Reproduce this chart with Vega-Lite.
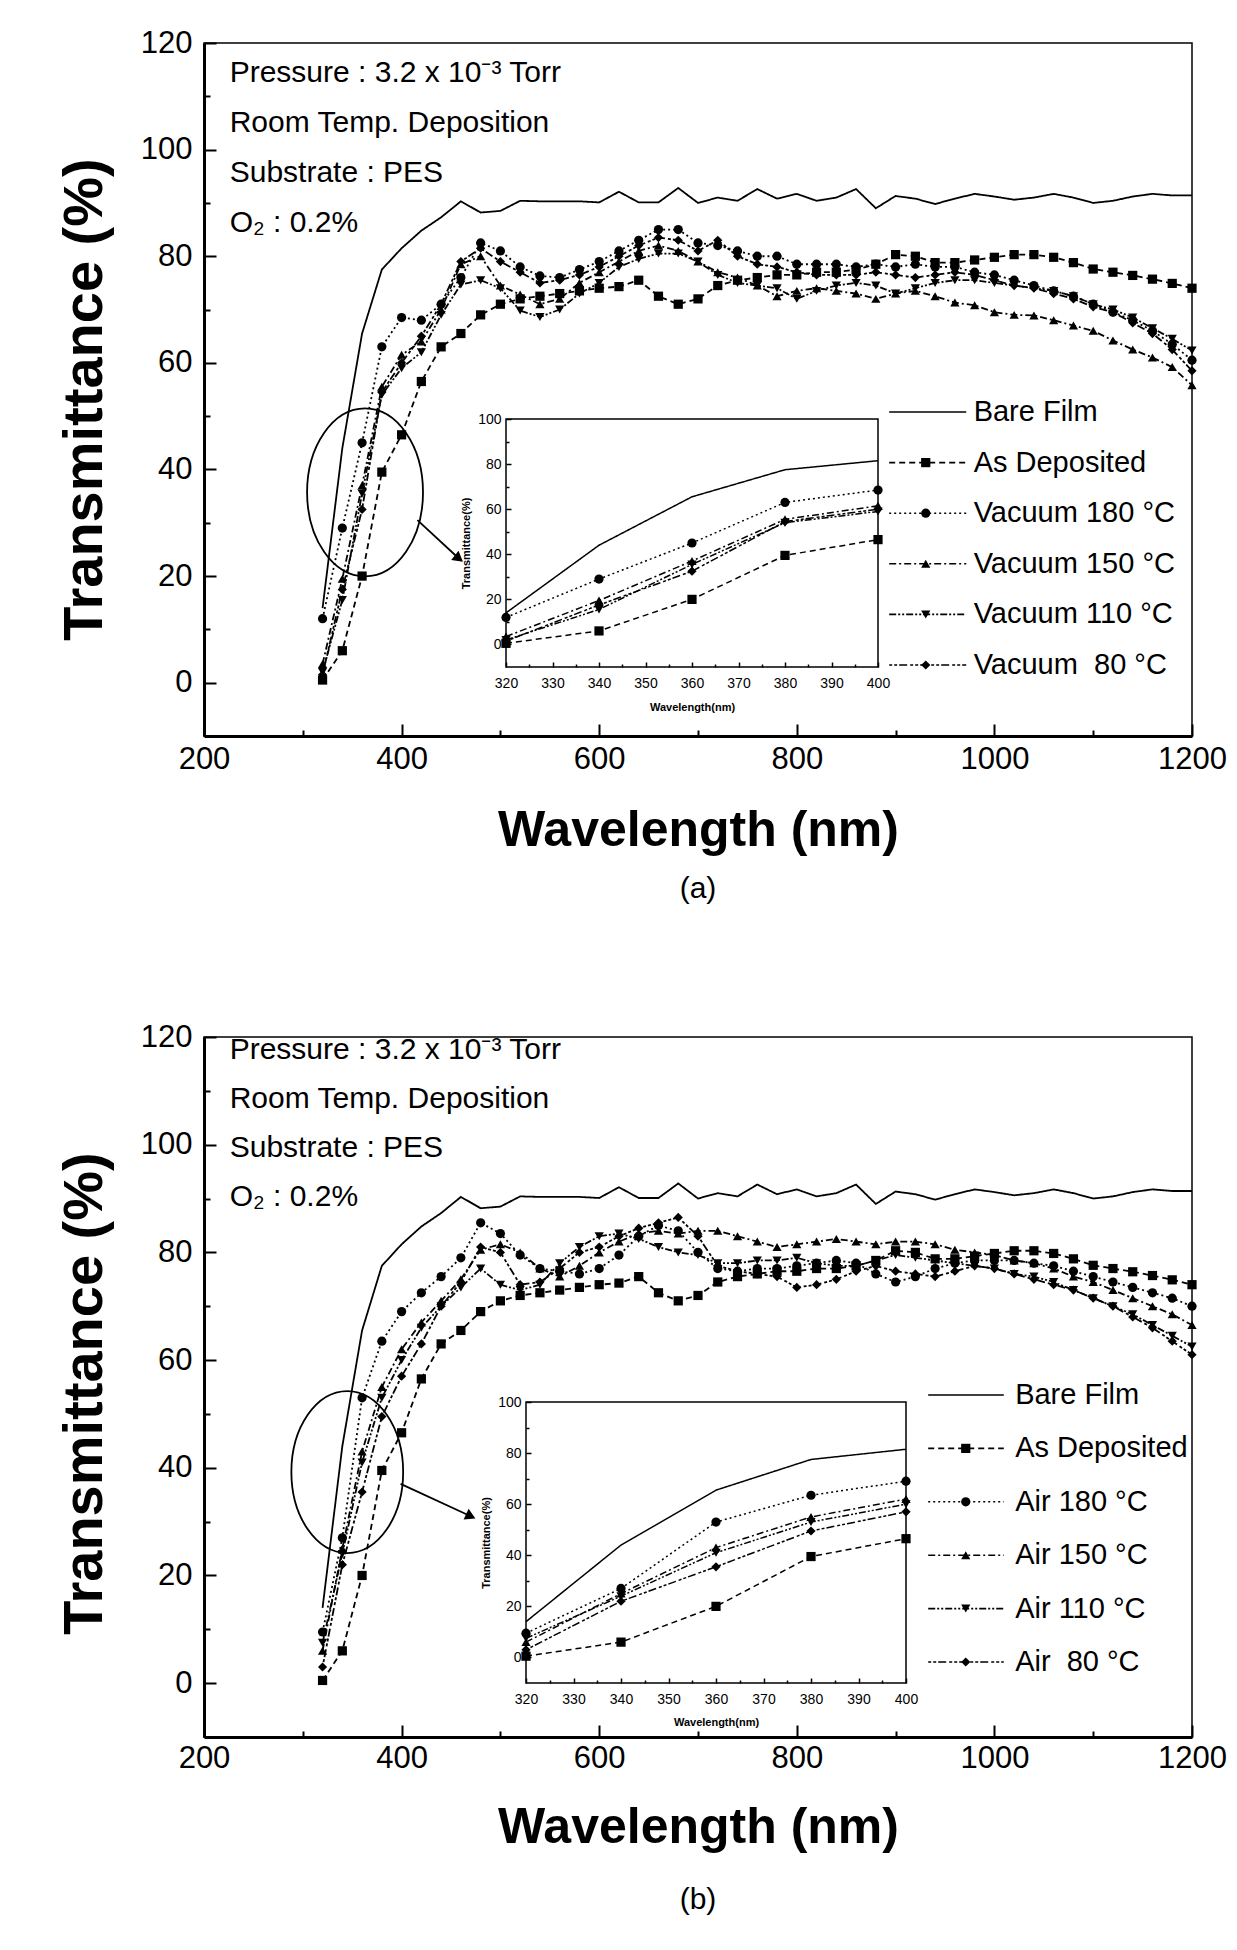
{
"$schema":"https://vega.github.io/schema/vega-lite/v6.json",
"background":"white",
"padding":{"left":55,"top":26,"right":10,"bottom":10},
"spacing":115,
"config":{"view":{"stroke":"black","strokeWidth":1.5},"font":"Liberation Sans","axis":{"grid":false,"domainColor":"black","tickColor":"black","labelColor":"black","titleColor":"black","labelFont":"Liberation Sans","titleFont":"Liberation Sans"},"title":{"color":"black"}},
"datasets":{
"a":[
{"w":320,"t":14,"s":"bare"},{"w":340,"t":44,"s":"bare"},{"w":360,"t":65.5,"s":"bare"},{"w":380,"t":77.5,"s":"bare"},{"w":400,"t":81.5,"s":"bare"},{"w":420,"t":84.8,"s":"bare"},{"w":440,"t":87.3,"s":"bare"},{"w":460,"t":90.3,"s":"bare"},{"w":480,"t":88.2,"s":"bare"},{"w":500,"t":88.5,"s":"bare"},{"w":520,"t":90.4,"s":"bare"},{"w":540,"t":90.3,"s":"bare"},{"w":560,"t":90.3,"s":"bare"},{"w":580,"t":90.3,"s":"bare"},{"w":600,"t":90.1,"s":"bare"},{"w":620,"t":92.1,"s":"bare"},{"w":640,"t":90.1,"s":"bare"},{"w":660,"t":90.1,"s":"bare"},{"w":680,"t":92.8,"s":"bare"},{"w":700,"t":90,"s":"bare"},{"w":720,"t":91,"s":"bare"},{"w":740,"t":90.4,"s":"bare"},{"w":760,"t":92.6,"s":"bare"},{"w":780,"t":90.8,"s":"bare"},{"w":800,"t":91.7,"s":"bare"},{"w":820,"t":90.4,"s":"bare"},{"w":840,"t":91,"s":"bare"},{"w":860,"t":92.6,"s":"bare"},{"w":880,"t":89,"s":"bare"},{"w":900,"t":91.3,"s":"bare"},{"w":920,"t":90.8,"s":"bare"},{"w":940,"t":89.8,"s":"bare"},{"w":960,"t":90.8,"s":"bare"},{"w":980,"t":91.7,"s":"bare"},{"w":1000,"t":91.2,"s":"bare"},{"w":1020,"t":90.6,"s":"bare"},{"w":1040,"t":91,"s":"bare"},{"w":1060,"t":91.7,"s":"bare"},{"w":1080,"t":91,"s":"bare"},{"w":1100,"t":90,"s":"bare"},{"w":1120,"t":90.4,"s":"bare"},{"w":1140,"t":91.2,"s":"bare"},{"w":1160,"t":91.7,"s":"bare"},{"w":1180,"t":91.4,"s":"bare"},{"w":1200,"t":91.4,"s":"bare"},
{"w":320,"t":0.5,"s":"asdep"},{"w":340,"t":6,"s":"asdep"},{"w":360,"t":20,"s":"asdep"},{"w":380,"t":39.5,"s":"asdep"},{"w":400,"t":46.5,"s":"asdep"},{"w":420,"t":56.5,"s":"asdep"},{"w":440,"t":63,"s":"asdep"},{"w":460,"t":65.5,"s":"asdep"},{"w":480,"t":69,"s":"asdep"},{"w":500,"t":71,"s":"asdep"},{"w":520,"t":72,"s":"asdep"},{"w":540,"t":72.5,"s":"asdep"},{"w":560,"t":73,"s":"asdep"},{"w":580,"t":73.5,"s":"asdep"},{"w":600,"t":74,"s":"asdep"},{"w":620,"t":74.3,"s":"asdep"},{"w":640,"t":75.5,"s":"asdep"},{"w":660,"t":72.5,"s":"asdep"},{"w":680,"t":71,"s":"asdep"},{"w":700,"t":72,"s":"asdep"},{"w":720,"t":74.5,"s":"asdep"},{"w":740,"t":75.5,"s":"asdep"},{"w":760,"t":76,"s":"asdep"},{"w":780,"t":76.5,"s":"asdep"},{"w":800,"t":76.5,"s":"asdep"},{"w":820,"t":77,"s":"asdep"},{"w":840,"t":77,"s":"asdep"},{"w":860,"t":77.5,"s":"asdep"},{"w":880,"t":78.5,"s":"asdep"},{"w":900,"t":80.3,"s":"asdep"},{"w":920,"t":80,"s":"asdep"},{"w":940,"t":78.8,"s":"asdep"},{"w":960,"t":78.8,"s":"asdep"},{"w":980,"t":79.3,"s":"asdep"},{"w":1000,"t":79.8,"s":"asdep"},{"w":1020,"t":80.3,"s":"asdep"},{"w":1040,"t":80.3,"s":"asdep"},{"w":1060,"t":79.8,"s":"asdep"},{"w":1080,"t":78.8,"s":"asdep"},{"w":1100,"t":77.6,"s":"asdep"},{"w":1120,"t":77,"s":"asdep"},{"w":1140,"t":76.4,"s":"asdep"},{"w":1160,"t":75.7,"s":"asdep"},{"w":1180,"t":74.9,"s":"asdep"},{"w":1200,"t":74,"s":"asdep"},
{"w":320,"t":12,"s":"t180"},{"w":340,"t":29,"s":"t180"},{"w":360,"t":45,"s":"t180"},{"w":380,"t":63,"s":"t180"},{"w":400,"t":68.5,"s":"t180"},{"w":420,"t":68,"s":"t180"},{"w":440,"t":71,"s":"t180"},{"w":460,"t":76,"s":"t180"},{"w":480,"t":82.5,"s":"t180"},{"w":500,"t":81,"s":"t180"},{"w":520,"t":78,"s":"t180"},{"w":540,"t":76.3,"s":"t180"},{"w":560,"t":76,"s":"t180"},{"w":580,"t":77.5,"s":"t180"},{"w":600,"t":79,"s":"t180"},{"w":620,"t":81,"s":"t180"},{"w":640,"t":83,"s":"t180"},{"w":660,"t":85,"s":"t180"},{"w":680,"t":85,"s":"t180"},{"w":700,"t":82.5,"s":"t180"},{"w":720,"t":82,"s":"t180"},{"w":740,"t":81,"s":"t180"},{"w":760,"t":80,"s":"t180"},{"w":780,"t":80,"s":"t180"},{"w":800,"t":78.5,"s":"t180"},{"w":820,"t":78.5,"s":"t180"},{"w":840,"t":78.5,"s":"t180"},{"w":860,"t":78,"s":"t180"},{"w":880,"t":78.5,"s":"t180"},{"w":900,"t":78,"s":"t180"},{"w":920,"t":78.5,"s":"t180"},{"w":940,"t":78,"s":"t180"},{"w":960,"t":78,"s":"t180"},{"w":980,"t":77,"s":"t180"},{"w":1000,"t":76.5,"s":"t180"},{"w":1020,"t":75.5,"s":"t180"},{"w":1040,"t":74.5,"s":"t180"},{"w":1060,"t":73.5,"s":"t180"},{"w":1080,"t":72.5,"s":"t180"},{"w":1100,"t":71,"s":"t180"},{"w":1120,"t":69.5,"s":"t180"},{"w":1140,"t":68,"s":"t180"},{"w":1160,"t":66,"s":"t180"},{"w":1180,"t":63.5,"s":"t180"},{"w":1200,"t":60.5,"s":"t180"},
{"w":320,"t":3.5,"s":"t150"},{"w":340,"t":19.5,"s":"t150"},{"w":360,"t":37,"s":"t150"},{"w":380,"t":55.5,"s":"t150"},{"w":400,"t":61.5,"s":"t150"},{"w":420,"t":64,"s":"t150"},{"w":440,"t":70,"s":"t150"},{"w":460,"t":78.5,"s":"t150"},{"w":480,"t":80,"s":"t150"},{"w":500,"t":74.5,"s":"t150"},{"w":520,"t":72.8,"s":"t150"},{"w":540,"t":71,"s":"t150"},{"w":560,"t":72,"s":"t150"},{"w":580,"t":75,"s":"t150"},{"w":600,"t":77,"s":"t150"},{"w":620,"t":79,"s":"t150"},{"w":640,"t":81,"s":"t150"},{"w":660,"t":82,"s":"t150"},{"w":680,"t":81,"s":"t150"},{"w":700,"t":79,"s":"t150"},{"w":720,"t":77,"s":"t150"},{"w":740,"t":76,"s":"t150"},{"w":760,"t":74.5,"s":"t150"},{"w":780,"t":72.5,"s":"t150"},{"w":800,"t":73.5,"s":"t150"},{"w":820,"t":74,"s":"t150"},{"w":840,"t":73.5,"s":"t150"},{"w":860,"t":73,"s":"t150"},{"w":880,"t":72,"s":"t150"},{"w":900,"t":73,"s":"t150"},{"w":920,"t":73.5,"s":"t150"},{"w":940,"t":72.5,"s":"t150"},{"w":960,"t":71.3,"s":"t150"},{"w":980,"t":70.8,"s":"t150"},{"w":1000,"t":69.5,"s":"t150"},{"w":1020,"t":69,"s":"t150"},{"w":1040,"t":68.9,"s":"t150"},{"w":1060,"t":68,"s":"t150"},{"w":1080,"t":67,"s":"t150"},{"w":1100,"t":66,"s":"t150"},{"w":1120,"t":64.2,"s":"t150"},{"w":1140,"t":62.5,"s":"t150"},{"w":1160,"t":61,"s":"t150"},{"w":1180,"t":59.2,"s":"t150"},{"w":1200,"t":55.8,"s":"t150"},
{"w":320,"t":2,"s":"t110"},{"w":340,"t":15.5,"s":"t110"},{"w":360,"t":35.5,"s":"t110"},{"w":380,"t":54,"s":"t110"},{"w":400,"t":59,"s":"t110"},{"w":420,"t":62,"s":"t110"},{"w":440,"t":69,"s":"t110"},{"w":460,"t":74.7,"s":"t110"},{"w":480,"t":75.5,"s":"t110"},{"w":500,"t":74,"s":"t110"},{"w":520,"t":69.8,"s":"t110"},{"w":540,"t":68.6,"s":"t110"},{"w":560,"t":70,"s":"t110"},{"w":580,"t":73,"s":"t110"},{"w":600,"t":75,"s":"t110"},{"w":620,"t":78,"s":"t110"},{"w":640,"t":79.5,"s":"t110"},{"w":660,"t":80.5,"s":"t110"},{"w":680,"t":80.5,"s":"t110"},{"w":700,"t":79,"s":"t110"},{"w":720,"t":76.5,"s":"t110"},{"w":740,"t":75,"s":"t110"},{"w":760,"t":74.5,"s":"t110"},{"w":780,"t":74,"s":"t110"},{"w":800,"t":72,"s":"t110"},{"w":820,"t":73.5,"s":"t110"},{"w":840,"t":74.5,"s":"t110"},{"w":860,"t":75,"s":"t110"},{"w":880,"t":74.5,"s":"t110"},{"w":900,"t":73,"s":"t110"},{"w":920,"t":74,"s":"t110"},{"w":940,"t":75,"s":"t110"},{"w":960,"t":75.5,"s":"t110"},{"w":980,"t":75.5,"s":"t110"},{"w":1000,"t":75,"s":"t110"},{"w":1020,"t":74.5,"s":"t110"},{"w":1040,"t":74,"s":"t110"},{"w":1060,"t":73.5,"s":"t110"},{"w":1080,"t":72.5,"s":"t110"},{"w":1100,"t":71,"s":"t110"},{"w":1120,"t":70,"s":"t110"},{"w":1140,"t":68.5,"s":"t110"},{"w":1160,"t":66.5,"s":"t110"},{"w":1180,"t":64.5,"s":"t110"},{"w":1200,"t":62.3,"s":"t110"},
{"w":320,"t":1.5,"s":"t80"},{"w":340,"t":17.5,"s":"t80"},{"w":360,"t":32.5,"s":"t80"},{"w":380,"t":54.5,"s":"t80"},{"w":400,"t":60,"s":"t80"},{"w":420,"t":65,"s":"t80"},{"w":440,"t":71,"s":"t80"},{"w":460,"t":79,"s":"t80"},{"w":480,"t":81.5,"s":"t80"},{"w":500,"t":79,"s":"t80"},{"w":520,"t":77,"s":"t80"},{"w":540,"t":75,"s":"t80"},{"w":560,"t":75.5,"s":"t80"},{"w":580,"t":76.5,"s":"t80"},{"w":600,"t":78,"s":"t80"},{"w":620,"t":80,"s":"t80"},{"w":640,"t":82,"s":"t80"},{"w":660,"t":83.5,"s":"t80"},{"w":680,"t":83,"s":"t80"},{"w":700,"t":81,"s":"t80"},{"w":720,"t":83,"s":"t80"},{"w":740,"t":80,"s":"t80"},{"w":760,"t":78.5,"s":"t80"},{"w":780,"t":78,"s":"t80"},{"w":800,"t":77,"s":"t80"},{"w":820,"t":76.5,"s":"t80"},{"w":840,"t":76.5,"s":"t80"},{"w":860,"t":76.5,"s":"t80"},{"w":880,"t":77,"s":"t80"},{"w":900,"t":76.5,"s":"t80"},{"w":920,"t":76,"s":"t80"},{"w":940,"t":76.5,"s":"t80"},{"w":960,"t":77,"s":"t80"},{"w":980,"t":76.5,"s":"t80"},{"w":1000,"t":75.5,"s":"t80"},{"w":1020,"t":74.5,"s":"t80"},{"w":1040,"t":74,"s":"t80"},{"w":1060,"t":73,"s":"t80"},{"w":1080,"t":72,"s":"t80"},{"w":1100,"t":70.5,"s":"t80"},{"w":1120,"t":69.5,"s":"t80"},{"w":1140,"t":67.5,"s":"t80"},{"w":1160,"t":65.5,"s":"t80"},{"w":1180,"t":62.5,"s":"t80"},{"w":1200,"t":58.5,"s":"t80"}
],
"b":[
{"w":320,"t":14,"s":"bare"},{"w":340,"t":44,"s":"bare"},{"w":360,"t":65.5,"s":"bare"},{"w":380,"t":77.5,"s":"bare"},{"w":400,"t":81.5,"s":"bare"},{"w":420,"t":84.8,"s":"bare"},{"w":440,"t":87.3,"s":"bare"},{"w":460,"t":90.3,"s":"bare"},{"w":480,"t":88.2,"s":"bare"},{"w":500,"t":88.5,"s":"bare"},{"w":520,"t":90.4,"s":"bare"},{"w":540,"t":90.3,"s":"bare"},{"w":560,"t":90.3,"s":"bare"},{"w":580,"t":90.3,"s":"bare"},{"w":600,"t":90.1,"s":"bare"},{"w":620,"t":92.1,"s":"bare"},{"w":640,"t":90.1,"s":"bare"},{"w":660,"t":90.1,"s":"bare"},{"w":680,"t":92.8,"s":"bare"},{"w":700,"t":90,"s":"bare"},{"w":720,"t":91,"s":"bare"},{"w":740,"t":90.4,"s":"bare"},{"w":760,"t":92.6,"s":"bare"},{"w":780,"t":90.8,"s":"bare"},{"w":800,"t":91.7,"s":"bare"},{"w":820,"t":90.4,"s":"bare"},{"w":840,"t":91,"s":"bare"},{"w":860,"t":92.6,"s":"bare"},{"w":880,"t":89,"s":"bare"},{"w":900,"t":91.3,"s":"bare"},{"w":920,"t":90.8,"s":"bare"},{"w":940,"t":89.8,"s":"bare"},{"w":960,"t":90.8,"s":"bare"},{"w":980,"t":91.7,"s":"bare"},{"w":1000,"t":91.2,"s":"bare"},{"w":1020,"t":90.6,"s":"bare"},{"w":1040,"t":91,"s":"bare"},{"w":1060,"t":91.7,"s":"bare"},{"w":1080,"t":91,"s":"bare"},{"w":1100,"t":90,"s":"bare"},{"w":1120,"t":90.4,"s":"bare"},{"w":1140,"t":91.2,"s":"bare"},{"w":1160,"t":91.7,"s":"bare"},{"w":1180,"t":91.4,"s":"bare"},{"w":1200,"t":91.4,"s":"bare"},
{"w":320,"t":0.5,"s":"asdep"},{"w":340,"t":6,"s":"asdep"},{"w":360,"t":20,"s":"asdep"},{"w":380,"t":39.5,"s":"asdep"},{"w":400,"t":46.5,"s":"asdep"},{"w":420,"t":56.5,"s":"asdep"},{"w":440,"t":63,"s":"asdep"},{"w":460,"t":65.5,"s":"asdep"},{"w":480,"t":69,"s":"asdep"},{"w":500,"t":71,"s":"asdep"},{"w":520,"t":72,"s":"asdep"},{"w":540,"t":72.5,"s":"asdep"},{"w":560,"t":73,"s":"asdep"},{"w":580,"t":73.5,"s":"asdep"},{"w":600,"t":74,"s":"asdep"},{"w":620,"t":74.3,"s":"asdep"},{"w":640,"t":75.5,"s":"asdep"},{"w":660,"t":72.5,"s":"asdep"},{"w":680,"t":71,"s":"asdep"},{"w":700,"t":72,"s":"asdep"},{"w":720,"t":74.5,"s":"asdep"},{"w":740,"t":75.5,"s":"asdep"},{"w":760,"t":76,"s":"asdep"},{"w":780,"t":76.5,"s":"asdep"},{"w":800,"t":76.5,"s":"asdep"},{"w":820,"t":77,"s":"asdep"},{"w":840,"t":77,"s":"asdep"},{"w":860,"t":77.5,"s":"asdep"},{"w":880,"t":78.5,"s":"asdep"},{"w":900,"t":80.3,"s":"asdep"},{"w":920,"t":80,"s":"asdep"},{"w":940,"t":78.8,"s":"asdep"},{"w":960,"t":78.8,"s":"asdep"},{"w":980,"t":79.3,"s":"asdep"},{"w":1000,"t":79.8,"s":"asdep"},{"w":1020,"t":80.3,"s":"asdep"},{"w":1040,"t":80.3,"s":"asdep"},{"w":1060,"t":79.8,"s":"asdep"},{"w":1080,"t":78.8,"s":"asdep"},{"w":1100,"t":77.6,"s":"asdep"},{"w":1120,"t":77,"s":"asdep"},{"w":1140,"t":76.4,"s":"asdep"},{"w":1160,"t":75.7,"s":"asdep"},{"w":1180,"t":74.9,"s":"asdep"},{"w":1200,"t":74,"s":"asdep"},
{"w":320,"t":9.5,"s":"t180"},{"w":340,"t":27,"s":"t180"},{"w":360,"t":53,"s":"t180"},{"w":380,"t":63.5,"s":"t180"},{"w":400,"t":69,"s":"t180"},{"w":420,"t":72.5,"s":"t180"},{"w":440,"t":75.5,"s":"t180"},{"w":460,"t":79,"s":"t180"},{"w":480,"t":85.5,"s":"t180"},{"w":500,"t":83.5,"s":"t180"},{"w":520,"t":79.5,"s":"t180"},{"w":540,"t":77,"s":"t180"},{"w":560,"t":76.5,"s":"t180"},{"w":580,"t":76,"s":"t180"},{"w":600,"t":77,"s":"t180"},{"w":620,"t":79.5,"s":"t180"},{"w":640,"t":83,"s":"t180"},{"w":660,"t":85,"s":"t180"},{"w":680,"t":84,"s":"t180"},{"w":700,"t":80,"s":"t180"},{"w":720,"t":77,"s":"t180"},{"w":740,"t":76.5,"s":"t180"},{"w":760,"t":77,"s":"t180"},{"w":780,"t":77,"s":"t180"},{"w":800,"t":77.5,"s":"t180"},{"w":820,"t":78,"s":"t180"},{"w":840,"t":78.5,"s":"t180"},{"w":860,"t":78,"s":"t180"},{"w":880,"t":76,"s":"t180"},{"w":900,"t":74.5,"s":"t180"},{"w":920,"t":75.5,"s":"t180"},{"w":940,"t":77,"s":"t180"},{"w":960,"t":78,"s":"t180"},{"w":980,"t":78.5,"s":"t180"},{"w":1000,"t":78.5,"s":"t180"},{"w":1020,"t":78.5,"s":"t180"},{"w":1040,"t":78,"s":"t180"},{"w":1060,"t":77.5,"s":"t180"},{"w":1080,"t":76.5,"s":"t180"},{"w":1100,"t":75.5,"s":"t180"},{"w":1120,"t":74.5,"s":"t180"},{"w":1140,"t":73.5,"s":"t180"},{"w":1160,"t":72.5,"s":"t180"},{"w":1180,"t":71.5,"s":"t180"},{"w":1200,"t":70,"s":"t180"},
{"w":320,"t":6,"s":"t150"},{"w":340,"t":25,"s":"t150"},{"w":360,"t":43,"s":"t150"},{"w":380,"t":55,"s":"t150"},{"w":400,"t":62,"s":"t150"},{"w":420,"t":67,"s":"t150"},{"w":440,"t":71,"s":"t150"},{"w":460,"t":75,"s":"t150"},{"w":480,"t":80.5,"s":"t150"},{"w":500,"t":81.5,"s":"t150"},{"w":520,"t":80,"s":"t150"},{"w":540,"t":77,"s":"t150"},{"w":560,"t":75.5,"s":"t150"},{"w":580,"t":77.5,"s":"t150"},{"w":600,"t":80,"s":"t150"},{"w":620,"t":82,"s":"t150"},{"w":640,"t":83.5,"s":"t150"},{"w":660,"t":84,"s":"t150"},{"w":680,"t":83.5,"s":"t150"},{"w":700,"t":84,"s":"t150"},{"w":720,"t":84,"s":"t150"},{"w":740,"t":83,"s":"t150"},{"w":760,"t":82,"s":"t150"},{"w":780,"t":81,"s":"t150"},{"w":800,"t":81.5,"s":"t150"},{"w":820,"t":82,"s":"t150"},{"w":840,"t":82.5,"s":"t150"},{"w":860,"t":82,"s":"t150"},{"w":880,"t":81.5,"s":"t150"},{"w":900,"t":82,"s":"t150"},{"w":920,"t":82,"s":"t150"},{"w":940,"t":81.5,"s":"t150"},{"w":960,"t":80.5,"s":"t150"},{"w":980,"t":80,"s":"t150"},{"w":1000,"t":79.5,"s":"t150"},{"w":1020,"t":78.5,"s":"t150"},{"w":1040,"t":78,"s":"t150"},{"w":1060,"t":77,"s":"t150"},{"w":1080,"t":75.5,"s":"t150"},{"w":1100,"t":74.5,"s":"t150"},{"w":1120,"t":73,"s":"t150"},{"w":1140,"t":71.5,"s":"t150"},{"w":1160,"t":70,"s":"t150"},{"w":1180,"t":68.5,"s":"t150"},{"w":1200,"t":66.5,"s":"t150"},
{"w":320,"t":7.5,"s":"t110"},{"w":340,"t":24,"s":"t110"},{"w":360,"t":41,"s":"t110"},{"w":380,"t":53,"s":"t110"},{"w":400,"t":60,"s":"t110"},{"w":420,"t":66,"s":"t110"},{"w":440,"t":70,"s":"t110"},{"w":460,"t":73.5,"s":"t110"},{"w":480,"t":77,"s":"t110"},{"w":500,"t":74,"s":"t110"},{"w":520,"t":73,"s":"t110"},{"w":540,"t":74,"s":"t110"},{"w":560,"t":78,"s":"t110"},{"w":580,"t":81,"s":"t110"},{"w":600,"t":83,"s":"t110"},{"w":620,"t":83.5,"s":"t110"},{"w":640,"t":82.5,"s":"t110"},{"w":660,"t":81,"s":"t110"},{"w":680,"t":80,"s":"t110"},{"w":700,"t":79.5,"s":"t110"},{"w":720,"t":78,"s":"t110"},{"w":740,"t":78,"s":"t110"},{"w":760,"t":78.5,"s":"t110"},{"w":780,"t":78.5,"s":"t110"},{"w":800,"t":79,"s":"t110"},{"w":820,"t":78,"s":"t110"},{"w":840,"t":77.5,"s":"t110"},{"w":860,"t":77.5,"s":"t110"},{"w":880,"t":78.5,"s":"t110"},{"w":900,"t":79.5,"s":"t110"},{"w":920,"t":79,"s":"t110"},{"w":940,"t":78.5,"s":"t110"},{"w":960,"t":78,"s":"t110"},{"w":980,"t":77.5,"s":"t110"},{"w":1000,"t":77,"s":"t110"},{"w":1020,"t":76,"s":"t110"},{"w":1040,"t":75.5,"s":"t110"},{"w":1060,"t":74.5,"s":"t110"},{"w":1080,"t":73,"s":"t110"},{"w":1100,"t":71.5,"s":"t110"},{"w":1120,"t":70,"s":"t110"},{"w":1140,"t":68.5,"s":"t110"},{"w":1160,"t":66.5,"s":"t110"},{"w":1180,"t":64.5,"s":"t110"},{"w":1200,"t":62.5,"s":"t110"},
{"w":320,"t":3,"s":"t80"},{"w":340,"t":22,"s":"t80"},{"w":360,"t":35.5,"s":"t80"},{"w":380,"t":49.5,"s":"t80"},{"w":400,"t":57,"s":"t80"},{"w":420,"t":63,"s":"t80"},{"w":440,"t":70,"s":"t80"},{"w":460,"t":74.5,"s":"t80"},{"w":480,"t":81,"s":"t80"},{"w":500,"t":80,"s":"t80"},{"w":520,"t":74,"s":"t80"},{"w":540,"t":74.5,"s":"t80"},{"w":560,"t":77,"s":"t80"},{"w":580,"t":80,"s":"t80"},{"w":600,"t":81,"s":"t80"},{"w":620,"t":83,"s":"t80"},{"w":640,"t":84.5,"s":"t80"},{"w":660,"t":85.5,"s":"t80"},{"w":680,"t":86.5,"s":"t80"},{"w":700,"t":83,"s":"t80"},{"w":720,"t":77.5,"s":"t80"},{"w":740,"t":76.5,"s":"t80"},{"w":760,"t":76,"s":"t80"},{"w":780,"t":75.5,"s":"t80"},{"w":800,"t":73.5,"s":"t80"},{"w":820,"t":74,"s":"t80"},{"w":840,"t":75,"s":"t80"},{"w":860,"t":76.5,"s":"t80"},{"w":880,"t":77.5,"s":"t80"},{"w":900,"t":76.5,"s":"t80"},{"w":920,"t":76,"s":"t80"},{"w":940,"t":75.5,"s":"t80"},{"w":960,"t":76.5,"s":"t80"},{"w":980,"t":77.5,"s":"t80"},{"w":1000,"t":77,"s":"t80"},{"w":1020,"t":76,"s":"t80"},{"w":1040,"t":75,"s":"t80"},{"w":1060,"t":74,"s":"t80"},{"w":1080,"t":73,"s":"t80"},{"w":1100,"t":71.5,"s":"t80"},{"w":1120,"t":70,"s":"t80"},{"w":1140,"t":68,"s":"t80"},{"w":1160,"t":66,"s":"t80"},{"w":1180,"t":63.5,"s":"t80"},{"w":1200,"t":61,"s":"t80"}
],
"legA":[{"s":"bare","label":"Bare Film"},{"s":"asdep","label":"As Deposited"},{"s":"t180","label":"Vacuum 180 °C"},{"s":"t150","label":"Vacuum 150 °C"},{"s":"t110","label":"Vacuum 110 °C"},{"s":"t80","label":"Vacuum \u00a080 °C"}],
"legB":[{"s":"bare","label":"Bare Film"},{"s":"asdep","label":"As Deposited"},{"s":"t180","label":"Air 180 °C"},{"s":"t150","label":"Air 150 °C"},{"s":"t110","label":"Air 110 °C"},{"s":"t80","label":"Air \u00a080 °C"}]
},
"vconcat":[
{
"width":988,"height":693,
"title":{"text":"(a)","orient":"bottom","fontSize":30,"fontWeight":"normal","font":"Liberation Sans","offset":19},
"resolve":{"scale":{"x":"independent","y":"independent"}},
"layer":[
{"layer":[
{"data":{"name":"a"},"mark":{"type":"line","color":"black","strokeWidth":1.8},
"encoding":{
"x":{"field":"w","type":"quantitative","scale":{"domain":[200,1200],"nice":false,"zero":false},"axis":{"title":"Wavelength (nm)","values":[200,300,400,500,600,700,800,900,1000,1100,1200],"format":"d","labelExpr":"datum.value % 200 === 0 ? datum.label : ''","tickSize":{"condition":{"test":"datum.value % 200 === 0","value":-12},"value":-6},"tickWidth":2,"labelFontSize":31,"labelPadding":20,"labelFlush":false,"labelOverlap":false,"titleFontSize":50,"titleFontWeight":"bold","titlePadding":25,"domainWidth":3}},
"y":{"field":"t","type":"quantitative","scale":{"domain":[-10,120],"nice":false,"zero":false},"axis":{"title":"Transmittance (%)","titleY":356,"values":[0,10,20,30,40,50,60,70,80,90,100,110,120],"labelExpr":"datum.value % 20 === 0 ? datum.label : ''","tickSize":{"condition":{"test":"datum.value % 20 === 0","value":-12},"value":-6},"tickWidth":2,"labelFontSize":31,"labelPadding":24,"labelFlush":false,"labelOverlap":false,"titleFontSize":56,"titleFontWeight":"bold","titlePadding":27,"domainWidth":3}},
"strokeDash":{"field":"s","type":"nominal","scale":{"domain":["bare","asdep","t180","t150","t110","t80"],"range":[[1,0],[6,4],[2,3],[7,3,2,3],[7,2,2,2,2,2],[3,2,3,2,8,3]]},"legend":null}}},
{"data":{"name":"a"},"transform":[{"filter":"datum.s !== 'bare'"}],"mark":{"type":"point","filled":true,"color":"black","size":85,"opacity":1},
"encoding":{"x":{"field":"w","type":"quantitative"},"y":{"field":"t","type":"quantitative"},
"shape":{"field":"s","type":"nominal","scale":{"domain":["bare","asdep","t180","t150","t110","t80"],"range":["circle","square","circle","triangle-up","triangle-down","diamond"]},"legend":null}}},
{"data":{"values":[{}]},"mark":{"type":"text","align":"left","baseline":"middle","fontSize":30,"lineHeight":50,"font":"Liberation Sans","color":"black","text":["Pressure : 3.2 x 10⁻³ Torr","Room Temp. Deposition","Substrate : PES","O₂ : 0.2%"]},"encoding":{"x":{"datum":226},"y":{"datum":114.3}}},
{"data":{"values":[{}]},"mark":{"type":"point","shape":"M0,-1A0.69,1 0 1,1 0,1A0.69,1 0 1,1 0,-1Z","filled":false,"color":"black","strokeWidth":1.8,"size":28224,"opacity":1},"encoding":{"x":{"datum":363},"y":{"datum":35.7}}},
{"data":{"values":[{}]},"mark":{"type":"rule","color":"black","strokeWidth":1.8},"encoding":{"x":{"datum":416},"y":{"datum":30.5},"x2":{"datum":458},"y2":{"datum":23.3}}},
{"data":{"values":[{}]},"mark":{"type":"point","shape":"triangle-right","filled":true,"color":"black","size":140,"angle":38,"opacity":1},"encoding":{"x":{"datum":458},"y":{"datum":23.3}}}
]},
{"layer":[
{"data":{"values":[{}]},"mark":{"type":"rect","fillOpacity":0,"stroke":"black","strokeWidth":1.5},
"encoding":{"x":{"datum":320,"scale":{"domain":[320,400],"range":[302,674],"nice":false,"zero":false},"axis":{"orient":"bottom","offset":-69,"title":"Wavelength(nm)","values":[320,325,330,335,340,345,350,355,360,365,370,375,380,385,390,395,400],"format":"d","labelExpr":"datum.value % 10 === 0 ? datum.label : ''","tickSize":{"condition":{"test":"datum.value % 10 === 0","value":-5},"value":-3},"tickWidth":1.5,"labelFontSize":14,"labelPadding":14,"labelFlush":false,"labelOverlap":false,"titleFontSize":11,"titleFontWeight":"bold","titlePadding":9,"domain":false}},
"x2":{"datum":400},
"y":{"datum":-10,"scale":{"domain":[-10,100],"range":[624,376],"nice":false,"zero":false},"axis":{"orient":"left","offset":-302,"title":"Transmittance(%)","values":[0,10,20,30,40,50,60,70,80,90,100],"labelExpr":"datum.value % 20 === 0 ? datum.label : ''","tickSize":{"condition":{"test":"datum.value % 20 === 0","value":-5},"value":-3},"tickWidth":1.5,"labelFontSize":14,"labelPadding":10,"labelFlush":false,"labelOverlap":false,"titleFontSize":11,"titleFontWeight":"bold","titlePadding":6,"domain":false}},
"y2":{"datum":100}}},
{"data":{"name":"a"},"transform":[{"filter":"datum.w <= 400"}],"mark":{"type":"line","color":"black","strokeWidth":1.5},
"encoding":{"x":{"field":"w","type":"quantitative","scale":{"domain":[320,400],"range":[302,674],"nice":false,"zero":false}},"y":{"field":"t","type":"quantitative","scale":{"domain":[-10,100],"range":[624,376],"nice":false,"zero":false}},"strokeDash":{"field":"s","type":"nominal","legend":null}}},
{"data":{"name":"a"},"transform":[{"filter":"datum.w <= 400 && datum.s !== 'bare'"}],"mark":{"type":"point","filled":true,"color":"black","size":85,"opacity":1},
"encoding":{"x":{"field":"w","type":"quantitative","scale":{"domain":[320,400],"range":[302,674],"nice":false,"zero":false}},"y":{"field":"t","type":"quantitative","scale":{"domain":[-10,100],"range":[624,376],"nice":false,"zero":false}},"shape":{"field":"s","type":"nominal","legend":null}}}
]},
{"data":{"name":"legA"},
"encoding":{"y":{"field":"s","type":"nominal","scale":{"type":"point","domain":["bare","asdep","t180","t150","t110","t80"],"range":[369,622],"padding":0},"axis":null}},
"layer":[
{"mark":{"type":"rule","color":"black","strokeWidth":1.6},"encoding":{"x":{"datum":893.5,"scale":{"domain":[200,1200],"nice":false,"zero":false},"axis":null},"x2":{"datum":971.5},"strokeDash":{"field":"s","type":"nominal","legend":null}}},
{"transform":[{"filter":"datum.s !== 'bare'"}],"mark":{"type":"point","filled":true,"color":"black","size":85,"opacity":1},"encoding":{"x":{"datum":930.5,"scale":{"domain":[200,1200],"nice":false,"zero":false},"axis":null},"shape":{"field":"s","type":"nominal","legend":null}}},
{"mark":{"type":"text","align":"left","baseline":"middle","fontSize":29,"font":"Liberation Sans","color":"black"},"encoding":{"x":{"datum":979,"scale":{"domain":[200,1200],"nice":false,"zero":false},"axis":null},"text":{"field":"label"}}}
]}
]
},
{
"width":988,"height":700,
"title":{"text":"(b)","orient":"bottom","fontSize":30,"fontWeight":"normal","font":"Liberation Sans","offset":33},
"resolve":{"scale":{"x":"independent","y":"independent"}},
"layer":[
{"layer":[
{"data":{"name":"b"},"mark":{"type":"line","color":"black","strokeWidth":1.8},
"encoding":{
"x":{"field":"w","type":"quantitative","scale":{"domain":[200,1200],"nice":false,"zero":false},"axis":{"title":"Wavelength (nm)","values":[200,300,400,500,600,700,800,900,1000,1100,1200],"format":"d","labelExpr":"datum.value % 200 === 0 ? datum.label : ''","tickSize":{"condition":{"test":"datum.value % 200 === 0","value":-12},"value":-6},"tickWidth":2,"labelFontSize":31,"labelPadding":18,"labelFlush":false,"labelOverlap":false,"titleFontSize":50,"titleFontWeight":"bold","titlePadding":23,"domainWidth":3}},
"y":{"field":"t","type":"quantitative","scale":{"domain":[-10,120],"nice":false,"zero":false},"axis":{"title":"Transmittance (%)","titleY":356,"values":[0,10,20,30,40,50,60,70,80,90,100,110,120],"labelExpr":"datum.value % 20 === 0 ? datum.label : ''","tickSize":{"condition":{"test":"datum.value % 20 === 0","value":-12},"value":-6},"tickWidth":2,"labelFontSize":31,"labelPadding":24,"labelFlush":false,"labelOverlap":false,"titleFontSize":56,"titleFontWeight":"bold","titlePadding":27,"domainWidth":3}},
"strokeDash":{"field":"s","type":"nominal","legend":null}}},
{"data":{"name":"b"},"transform":[{"filter":"datum.s !== 'bare'"}],"mark":{"type":"point","filled":true,"color":"black","size":85,"opacity":1},
"encoding":{"x":{"field":"w","type":"quantitative"},"y":{"field":"t","type":"quantitative"},"shape":{"field":"s","type":"nominal","legend":null}}},
{"data":{"values":[{}]},"mark":{"type":"text","align":"left","baseline":"middle","fontSize":30,"lineHeight":49,"font":"Liberation Sans","color":"black","text":["Pressure : 3.2 x 10⁻³ Torr","Room Temp. Deposition","Substrate : PES","O₂ : 0.2%"]},"encoding":{"x":{"datum":226},"y":{"datum":117.5}}},
{"data":{"values":[{}]},"mark":{"type":"point","shape":"M0,-1A0.69,1 0 1,1 0,1A0.69,1 0 1,1 0,-1Z","filled":false,"color":"black","strokeWidth":1.8,"size":26244,"opacity":1},"encoding":{"x":{"datum":345},"y":{"datum":39.2}}},
{"data":{"values":[{}]},"mark":{"type":"rule","color":"black","strokeWidth":1.8},"encoding":{"x":{"datum":399},"y":{"datum":37},"x2":{"datum":470},"y2":{"datum":31}}},
{"data":{"values":[{}]},"mark":{"type":"point","shape":"triangle-right","filled":true,"color":"black","size":140,"angle":25,"opacity":1},"encoding":{"x":{"datum":470},"y":{"datum":31}}}
]},
{"layer":[
{"data":{"values":[{}]},"mark":{"type":"rect","fillOpacity":0,"stroke":"black","strokeWidth":1.5},
"encoding":{"x":{"datum":320,"scale":{"domain":[320,400],"range":[322,702],"nice":false,"zero":false},"axis":{"orient":"bottom","offset":-54,"title":"Wavelength(nm)","values":[320,325,330,335,340,345,350,355,360,365,370,375,380,385,390,395,400],"format":"d","labelExpr":"datum.value % 10 === 0 ? datum.label : ''","tickSize":{"condition":{"test":"datum.value % 10 === 0","value":-5},"value":-3},"tickWidth":1.5,"labelFontSize":14,"labelPadding":14,"labelFlush":false,"labelOverlap":false,"titleFontSize":11,"titleFontWeight":"bold","titlePadding":8,"domain":false}},
"x2":{"datum":400},
"y":{"datum":-10,"scale":{"domain":[-10,100],"range":[646,365],"nice":false,"zero":false},"axis":{"orient":"left","offset":-322,"title":"Transmittance(%)","values":[0,10,20,30,40,50,60,70,80,90,100],"labelExpr":"datum.value % 20 === 0 ? datum.label : ''","tickSize":{"condition":{"test":"datum.value % 20 === 0","value":-5},"value":-3},"tickWidth":1.5,"labelFontSize":14,"labelPadding":10,"labelFlush":false,"labelOverlap":false,"titleFontSize":11,"titleFontWeight":"bold","titlePadding":6,"domain":false}},
"y2":{"datum":100}}},
{"data":{"name":"b"},"transform":[{"filter":"datum.w <= 400"}],"mark":{"type":"line","color":"black","strokeWidth":1.5},
"encoding":{"x":{"field":"w","type":"quantitative","scale":{"domain":[320,400],"range":[322,702],"nice":false,"zero":false}},"y":{"field":"t","type":"quantitative","scale":{"domain":[-10,100],"range":[646,365],"nice":false,"zero":false}},"strokeDash":{"field":"s","type":"nominal","legend":null}}},
{"data":{"name":"b"},"transform":[{"filter":"datum.w <= 400 && datum.s !== 'bare'"}],"mark":{"type":"point","filled":true,"color":"black","size":85,"opacity":1},
"encoding":{"x":{"field":"w","type":"quantitative","scale":{"domain":[320,400],"range":[322,702],"nice":false,"zero":false}},"y":{"field":"t","type":"quantitative","scale":{"domain":[-10,100],"range":[646,365],"nice":false,"zero":false}},"shape":{"field":"s","type":"nominal","legend":null}}}
]},
{"data":{"name":"legB"},
"encoding":{"y":{"field":"s","type":"nominal","scale":{"type":"point","domain":["bare","asdep","t180","t150","t110","t80"],"range":[358,625],"padding":0},"axis":null}},
"layer":[
{"mark":{"type":"rule","color":"black","strokeWidth":1.6},"encoding":{"x":{"datum":933,"scale":{"domain":[200,1200],"nice":false,"zero":false},"axis":null},"x2":{"datum":1009.5},"strokeDash":{"field":"s","type":"nominal","legend":null}}},
{"transform":[{"filter":"datum.s !== 'bare'"}],"mark":{"type":"point","filled":true,"color":"black","size":85,"opacity":1},"encoding":{"x":{"datum":971,"scale":{"domain":[200,1200],"nice":false,"zero":false},"axis":null},"shape":{"field":"s","type":"nominal","legend":null}}},
{"mark":{"type":"text","align":"left","baseline":"middle","fontSize":29,"font":"Liberation Sans","color":"black"},"encoding":{"x":{"datum":1021,"scale":{"domain":[200,1200],"nice":false,"zero":false},"axis":null},"text":{"field":"label"}}}
]}
]
}
]
}
